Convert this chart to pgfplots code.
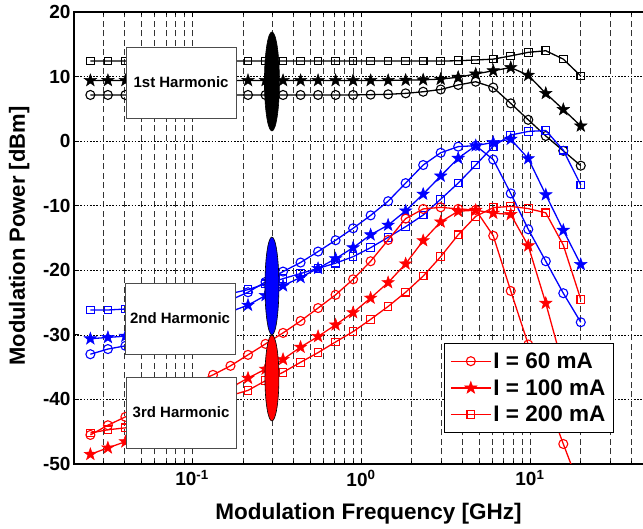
\documentclass[border=0pt]{standalone}
\usepackage{fontspec}
\setmainfont{Liberation Sans}
\usepackage{pgfplots}
\pgfplotsset{compat=1.18}
\usepackage{pgfplotstable}

\pgfdeclareplotmark{fstar}{%
  \pgfpathmoveto{\pgfpointpolar{90}{\pgfplotmarksize}}%
  \pgfpathlineto{\pgfpointpolar{126}{0.4\pgfplotmarksize}}%
  \pgfpathlineto{\pgfpointpolar{162}{\pgfplotmarksize}}%
  \pgfpathlineto{\pgfpointpolar{198}{0.4\pgfplotmarksize}}%
  \pgfpathlineto{\pgfpointpolar{234}{\pgfplotmarksize}}%
  \pgfpathlineto{\pgfpointpolar{270}{0.4\pgfplotmarksize}}%
  \pgfpathlineto{\pgfpointpolar{306}{\pgfplotmarksize}}%
  \pgfpathlineto{\pgfpointpolar{342}{0.4\pgfplotmarksize}}%
  \pgfpathlineto{\pgfpointpolar{18}{\pgfplotmarksize}}%
  \pgfpathlineto{\pgfpointpolar{54}{0.4\pgfplotmarksize}}%
  \pgfpathclose
  \pgfusepathqfillstroke
}

% 1st harmonic: c = 60 mA, s = 100 mA, q = 200 mA
\pgfplotstableread{
x c s q
0.02500 7.15 9.4 12.4
0.03175 7.15 9.4 12.4
0.04030 7.15 9.4 12.4
0.05117 7.15 9.4 12.4
0.06497 7.15 9.4 12.4
0.08249 7.15 9.4 12.4
0.10473 7.15 9.4 12.4
0.13298 7.15 9.4 12.4
0.16883 7.15 9.4 12.4
0.21437 7.15 9.4 12.4
0.27218 7.15 9.4 12.4
0.34557 7.15 9.4 12.4
0.43877 7.15 9.4 12.4
0.55708 7.15 9.4 12.4
0.70730 7.15 9.4 12.4
0.89804 7.15 9.4 12.4
1.1402 7.2 9.4 12.4
1.4477 7.25 9.4 12.4
1.8381 7.4 9.45 12.4
2.3337 7.65 9.5 12.4
2.9631 8.0 9.6 12.4
3.7621 8.7 9.9 12.45
4.7766 9.2 10.4 12.57
6.0646 8.3 10.9 12.7
7.7000 5.85 11.4 13.2
9.7765 3.3 10.2 13.75
12.413 0.8 7.4 14.0
15.760 -1.5 4.9 12.7
20.000 -3.8 2.35 10.1
}\tableone

% 2nd harmonic
\pgfplotstableread{
x c s q
0.02500 -33.0 -30.6 -26.15
0.03175 -32.2 -30.4 -26.15
0.04030 -31.7 -30.2 -26.0
0.05117 -30.5 -29.8 -25.8
0.06497 -29.3 -29.3 -25.5
0.08249 -28.1 -28.7 -25.1
0.10473 -26.9 -28.0 -24.6
0.13298 -25.8 -27.3 -24.1
0.16883 -24.6 -26.4 -23.6
0.21437 -23.4 -25.4 -23.0
0.27218 -21.8 -23.9 -22.1
0.34557 -20.2 -22.4 -21.3
0.43877 -18.8 -21.1 -20.5
0.55708 -17.1 -19.7 -19.7
0.70730 -15.35 -18.2 -18.9
0.89804 -13.5 -16.5 -17.9
1.1402 -11.5 -14.5 -16.5
1.4477 -9.3 -13.0 -14.9
1.8381 -6.5 -10.8 -13.25
2.3337 -3.7 -8.2 -11.45
2.9631 -1.8 -5.4 -9.0
3.7621 -0.85 -2.65 -6.5
4.7766 -0.7 -0.7 -3.7
6.0646 -2.85 -0.2 -0.8
7.7000 -8.1 0.3 0.95
9.7765 -13.65 -2.7 1.5
12.413 -18.6 -8.3 1.65
15.760 -23.55 -13.8 -1.4
20.000 -28.05 -19.1 -6.8
}\tabletwo

% 3rd harmonic
\pgfplotstableread{
x c s q
0.02500 -45.5 -48.5 -45.2
0.03175 -44.0 -47.5 -44.7
0.04030 -42.7 -46.55 -44.4
0.05117 -41.3 -45.2 -43.6
0.06497 -40.0 -43.8 -42.8
0.08249 -38.7 -42.4 -41.9
0.10473 -37.4 -41.0 -41.1
0.13298 -36.2 -39.6 -40.3
0.16883 -34.8 -38.2 -39.4
0.21437 -33.1 -36.7 -38.6
0.27218 -31.4 -35.3 -37.1
0.34557 -29.7 -33.8 -35.8
0.43877 -27.85 -31.9 -34.25
0.55708 -25.85 -30.25 -32.75
0.70730 -23.8 -28.45 -31.1
0.89804 -21.4 -26.55 -29.5
1.1402 -18.6 -24.3 -27.6
1.4477 -15.3 -21.9 -25.6
1.8381 -12.0 -19.0 -23.4
2.3337 -10.5 -15.4 -20.9
2.9631 -10.25 -12.5 -17.9
3.7621 -10.5 -10.85 -14.5
4.7766 -10.65 -10.7 -11.65
6.0646 -14.65 -11.15 -10.3
7.7000 -23.2 -11.35 -10.1
9.7765 -31.5 -16.2 -10.45
12.413 -39.5 -25.1 -11.1
15.760 -46.9 -35.0 -16.1
20.000 -54.0 -44.0 -24.5
}\tablethree

\begin{document}
\begin{tikzpicture}
\begin{axis}[
  name=ax,
  scale only axis, width=574pt, height=452pt,
  xmode=log, xmin=0.02, xmax=50, ymin=-50, ymax=20,
  xtick={0.1,1,10},
  xticklabels={10\textsuperscript{-1},10\textsuperscript{0},10\textsuperscript{1}},
  minor xtick={0.03,0.04,0.05,0.06,0.07,0.08,0.09,0.2,0.3,0.4,0.5,0.6,0.7,0.8,0.9,2,3,4,5,6,7,8,9,20,30,40},
  ytick={-50,-40,-30,-20,-10,0,10,20},
  yticklabels={-50,-40,-30,-20,-10,0,10,20},
  tick label style={font=\bfseries\fontsize{19}{21}\selectfont},
  xticklabel style={yshift=-3pt},
  grid=both,
  x grid style={black!80, line width=0.8pt, dash pattern=on 6pt off 3.5pt},
  y grid style={black, line width=0.7pt, dash pattern=on 1.6pt off 1.6pt},
  tick align=inside,
  major tick length=5pt, minor tick length=3pt,
  tick style={black, line width=0.8pt},
  axis line style={black, line width=1.3pt},
  xlabel={Modulation Frequency [GHz]},
  ylabel={Modulation Power [dBm]},
  xlabel style={font=\bfseries\fontsize{22.5}{24}\selectfont, at={(axis description cs:0.513,0)}, anchor=base, yshift=-56pt},
  ylabel style={font=\bfseries\fontsize{22}{24}\selectfont, at={(axis description cs:0,0.504)}, anchor=base, yshift=49pt},
  clip marker paths=true,
  every axis plot/.append style={line width=1.3pt},
  legend style={at={(axis description cs:0.9408,0.2677)}, anchor=north east,
    font=\bfseries\fontsize{22.5}{24}\selectfont, draw=black, line width=1.2pt,
    fill=white, inner xsep=6pt, inner ysep=7pt, row sep=5.5pt, cells={anchor=west}},
  legend image code/.code={\draw[mark repeat=2,mark phase=2,line width=1.3pt,#1] plot coordinates {(0pt,0pt) (20pt,0pt) (40pt,0pt)};},
]
% 1st harmonic (black)
\addplot[black, mark=o, mark size=4.5pt, mark options={line width=1.1pt}, forget plot] table[x=x,y=c] {\tableone};
\addplot[black, mark=fstar, mark size=6.5pt, mark options={line width=0.5pt}, forget plot] table[x=x,y=s] {\tableone};
\addplot[black, mark=square, mark size=3.8pt, mark options={line width=1.1pt}, forget plot] table[x=x,y=q] {\tableone};
% 2nd harmonic (blue)
\addplot[blue, mark=o, mark size=4.5pt, mark options={line width=1.1pt}, forget plot] table[x=x,y=c] {\tabletwo};
\addplot[blue, mark=fstar, mark size=6.5pt, mark options={line width=0.5pt}, forget plot] table[x=x,y=s] {\tabletwo};
\addplot[blue, mark=square, mark size=3.8pt, mark options={line width=1.1pt}, forget plot] table[x=x,y=q] {\tabletwo};
% 3rd harmonic (red)
\addplot[red, mark=o, mark size=4.5pt, mark options={line width=1.1pt}] table[x=x,y=c] {\tablethree};
\addlegendentry{I = 60 mA}
\addplot[red, mark=fstar, mark size=6.5pt, mark options={line width=0.5pt}] table[x=x,y=s] {\tablethree};
\addlegendentry{I = 100 mA}
\addplot[red, mark=square, mark size=3.8pt, mark options={line width=1.1pt}] table[x=x,y=q] {\tablethree};
\addlegendentry{I = 200 mA}

% annotations
\draw[fill=red, line width=0.6pt] (axis cs:0.297,-36.68) ellipse [x radius=7pt, y radius=43pt];
\draw[fill=blue, line width=0.6pt] (axis cs:0.297,-22.43) ellipse [x radius=7pt, y radius=49pt];
\draw[fill=black, line width=0.6pt] (axis cs:0.297,9.24) ellipse [x radius=7.5pt, y radius=49.5pt];
\node[draw=black!70, fill=white, line width=0.8pt, minimum width=110pt, minimum height=71pt, inner sep=0pt, font=\bfseries\fontsize{15}{18}\selectfont] at (axis cs:0.0861,9.08) {1st Harmonic};
\node[draw=black!70, fill=white, line width=0.8pt, minimum width=110pt, minimum height=71pt, inner sep=0pt, font=\bfseries\fontsize{15}{18}\selectfont] at (axis cs:0.0849,-27.47) {2nd Harmonic};
\node[draw=black!70, fill=white, line width=0.8pt, minimum width=110pt, minimum height=71pt, inner sep=0pt, font=\bfseries\fontsize{15}{18}\selectfont] at (axis cs:0.0861,-42.02) {3rd Harmonic};
\end{axis}
\pgfresetboundingbox
\path[use as bounding box] ([xshift=-74pt,yshift=-65pt]ax.south west) rectangle ([xshift=-5pt,yshift=12pt]ax.north east);
\end{tikzpicture}
\end{document}
